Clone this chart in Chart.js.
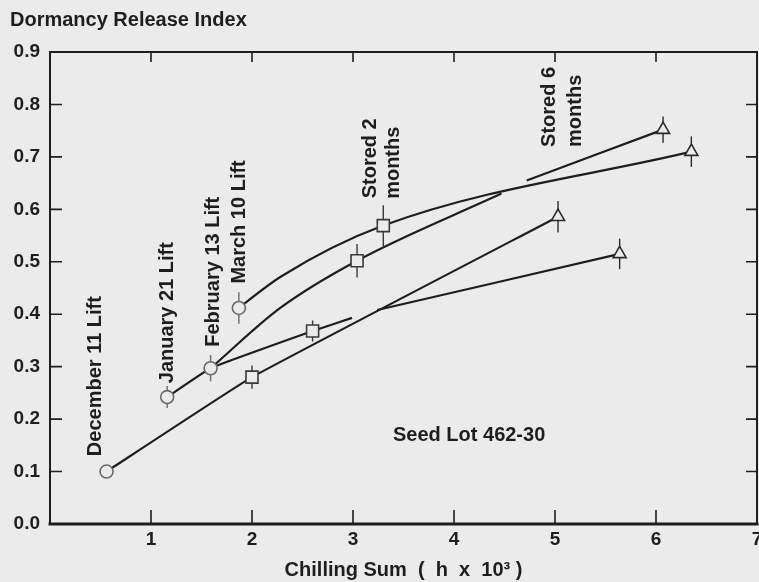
<!DOCTYPE html>
<html>
<head>
<meta charset="utf-8">
<script src="https://cdn.jsdelivr.net/npm/chart.js@4/dist/chart.umd.min.js"></script>
<style>
  html, body { margin: 0; padding: 0; background: #ebebeb; }
  canvas { display: block; }
</style>
</head>
<body>
<canvas id="myChart" width="759" height="582"></canvas>
<script>
// Rótulos dos eixos
const xTickLabels = ['', '1', '2', '3', '4', '5', '6', '7'];
const yTickLabels = ['0.0', '0.1', '0.2', '0.3', '0.4', '0.5', '0.6', '0.7', '0.8', '0.9'];

// Colheitas (círculos)
const circleX = [0.56, 1.16, 1.59, 1.87];
const circleY = [0.100, 0.242, 0.297, 0.412];
const circleErr = [0, 0.021, 0.025, 0.030];

// Armazenadas 2 meses (quadrados)
const squareX = [2.0, 2.6, 3.04, 3.3];
const squareY = [0.280, 0.368, 0.502, 0.569];
const squareErr = [0.022, 0.020, 0.032, 0.039];

// Armazenadas 6 meses (triângulos)
const triX = [5.03, 5.64, 6.07, 6.35];
const triY = [0.586, 0.515, 0.752, 0.710];
const triErr = [0.030, 0.029, 0.025, 0.029];

// Curvas desenhadas a mão no original
const decX = [0.56, 2.0, 5.03];
const decY = [0.100, 0.280, 0.586];
const janX = [1.16, 1.59, 2.6, 2.99];
const janY = [0.242, 0.297, 0.368, 0.393];
const janStoredX = [3.24, 5.64];
const janStoredY = [0.408, 0.515];
const febX = [1.59, 2.28, 3.04, 4.47];
const febY = [0.297, 0.412, 0.502, 0.630];
const febStoredX = [4.72, 6.07];
const febStoredY = [0.655, 0.752];
const marX = [1.87, 2.28, 3.3, 6.35];
const marY = [0.412, 0.471, 0.569, 0.710];

// Textos sobre o gráfico
const notes = [
    { text: 'December 11 Lift', x: 0.446, y: 0.282, align: 'center' },
    { text: 'January 21 Lift', x: 1.168, y: 0.403, align: 'center' },
    { text: 'February 13 Lift', x: 1.614, y: 0.481, align: 'center' },
    { text: 'March 10 Lift', x: 1.881, y: 0.576, align: 'center' },
    { text: 'Stored 2', x: 3.178, y: 0.621, align: 'left' },
    { text: 'months', x: 3.396, y: 0.620, align: 'left' },
    { text: 'Stored 6', x: 4.95, y: 0.719, align: 'left' },
    { text: 'months', x: 5.198, y: 0.719, align: 'left' }
];
const seedLot = { text: 'Seed Lot 462-30', x: 3.396, y: 0.168 };

const BG = '#ebebeb';
const INK = '#1e1e1e';
const FONT = "'Liberation Sans', Arial, sans-serif";

const pts = (xs, ys) => xs.map((v, i) => ({ x: v, y: ys[i] }));

function curve(xs, ys, smooth) {
    return {
        data: pts(xs, ys),
        showLine: true,
        borderColor: INK,
        borderWidth: 2.2,
        pointRadius: 0,
        cubicInterpolationMode: smooth ? 'monotone' : 'default',
        tension: smooth ? 0.4 : 0.1,
        order: 2
    };
}

function markers(xs, ys, err, style, radius, color) {
    return {
        data: pts(xs, ys),
        err: err,
        showLine: false,
        pointStyle: style,
        pointRadius: radius,
        pointBorderWidth: 1.6,
        pointBorderColor: color,
        pointBackgroundColor: BG,
        order: 0
    };
}

// Moldura e marcas para dentro
const frameAndTicks = {
    id: 'frameAndTicks',
    afterDraw(chart) {
        const { ctx, chartArea: a, scales: { x, y } } = chart;
        ctx.save();
        ctx.strokeStyle = INK;
        ctx.lineCap = 'square';
        ctx.lineWidth = 2;
        ctx.beginPath();
        ctx.moveTo(a.left, a.bottom);
        ctx.lineTo(a.left, a.top);
        ctx.lineTo(a.right, a.top);
        ctx.lineTo(a.right, a.bottom);
        ctx.stroke();
        ctx.lineWidth = 3;
        ctx.beginPath();
        ctx.moveTo(a.left, a.bottom);
        ctx.lineTo(a.right, a.bottom);
        ctx.stroke();

        ctx.lineWidth = 1.6;
        ctx.lineCap = 'butt';
        ctx.beginPath();
        for (let i = 1; i < xTickLabels.length - 1; i++) {
            const px = x.getPixelForValue(i);
            ctx.moveTo(px, a.bottom); ctx.lineTo(px, a.bottom - 14);
            ctx.moveTo(px, a.top); ctx.lineTo(px, a.top + 10);
        }
        for (let i = 1; i < yTickLabels.length - 1; i++) {
            const py = y.getPixelForValue(parseFloat(yTickLabels[i]));
            ctx.moveTo(a.left, py); ctx.lineTo(a.left + 12, py);
            ctx.moveTo(a.right, py); ctx.lineTo(a.right - 11, py);
        }
        ctx.stroke();
        ctx.restore();
    }
};

// Barras de erro verticais
const errorBars = {
    id: 'errorBars',
    beforeDatasetsDraw(chart) {
        const { ctx, scales: { y } } = chart;
        ctx.save();
        ctx.lineWidth = 1.4;
        chart.data.datasets.forEach((ds, di) => {
            if (!ds.err) return;
            ctx.strokeStyle = ds.pointBorderColor;
            const meta = chart.getDatasetMeta(di);
            meta.data.forEach((p, i) => {
                const e = ds.err[i];
                if (!e) return;
                const v = ds.data[i].y;
                ctx.beginPath();
                ctx.moveTo(p.x, y.getPixelForValue(v + e));
                ctx.lineTo(p.x, y.getPixelForValue(v - e));
                ctx.stroke();
            });
        });
        ctx.restore();
    }
};

// Textos girados
const annotations = {
    id: 'annotations',
    afterDraw(chart) {
        const { ctx, scales: { x, y } } = chart;
        ctx.save();
        ctx.fillStyle = INK;
        ctx.font = 'bold 20px ' + FONT;
        ctx.textBaseline = 'middle';
        notes.forEach(n => {
            ctx.save();
            ctx.translate(x.getPixelForValue(n.x), y.getPixelForValue(n.y));
            ctx.rotate(-Math.PI / 2);
            ctx.textAlign = n.align;
            ctx.fillText(n.text, 0, 0);
            ctx.restore();
        });
        ctx.textAlign = 'left';
        ctx.fillText(seedLot.text, x.getPixelForValue(seedLot.x), y.getPixelForValue(seedLot.y));
        ctx.restore();
    }
};

const ctx = document.getElementById('myChart').getContext('2d');
const myChart = new Chart(ctx, {
    type: 'scatter',
    data: {
        datasets: [
            markers(circleX, circleY, circleErr, 'circle', 6.5, '#6a6a6a'),
            markers(squareX, squareY, squareErr, 'rect', 8.5, '#3a3a3a'),
            markers(triX, triY, triErr, 'triangle', 7.5, '#2a2a2a'),
            curve(decX, decY, false),
            curve(janX, janY, false),
            curve(janStoredX, janStoredY, false),
            curve(febX, febY, true),
            curve(febStoredX, febStoredY, false),
            curve(marX, marY, true)
        ]
    },
    options: {
        responsive: false,
        animation: false,
        layout: { autoPadding: false, padding: { left: 10, right: 2, top: 0, bottom: 0 } },
        plugins: {
            legend: { display: false },
            tooltip: { enabled: false },
            title: {
                display: true,
                text: 'Dormancy Release Index',
                align: 'start',
                color: INK,
                font: { family: FONT, size: 20, weight: 'bold' },
                padding: { top: 8, bottom: 20 }
            }
        },
        scales: {
            x: {
                type: 'linear',
                min: 0,
                max: 7,
                grid: { display: false, drawTicks: false },
                border: { display: false },
                ticks: {
                    stepSize: 1,
                    autoSkip: false,
                    maxRotation: 0,
                    padding: 4,
                    color: INK,
                    font: { family: FONT, size: 19, weight: 'bold' },
                    callback: (v, i) => xTickLabels[i]
                },
                title: {
                    display: true,
                    text: 'Chilling Sum  (  h  x  10³ )',
                    color: INK,
                    font: { family: FONT, size: 20, weight: 'bold' },
                    padding: { top: 0, bottom: 0 }
                },
                afterFit(scale) {
                    scale.height = 58;
                    scale.paddingLeft = 0;
                    scale.paddingRight = 0;
                }
            },
            y: {
                type: 'linear',
                min: 0,
                max: 0.9,
                grid: { display: false, drawTicks: false },
                border: { display: false },
                ticks: {
                    stepSize: 0.1,
                    autoSkip: false,
                    padding: 10,
                    color: INK,
                    font: { family: FONT, size: 19, weight: 'bold' },
                    callback: (v, i) => yTickLabels[i]
                },
                afterFit(scale) {
                    scale.width = 40;
                    scale.paddingTop = 0;
                    scale.paddingBottom = 0;
                }
            }
        }
    },
    plugins: [errorBars, frameAndTicks, annotations]
});
</script>
</body>
</html>
